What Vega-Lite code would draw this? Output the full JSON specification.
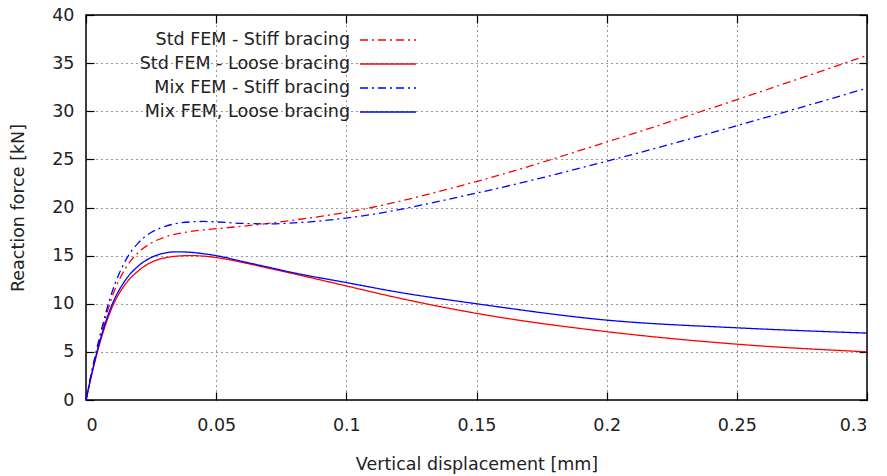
{
  "$schema": "https://vega.github.io/schema/vega-lite/v6.json",
  "width": 781,
  "height": 385,
  "autosize": {"type": "none"},
  "padding": {"left": 86, "top": 15, "right": 20, "bottom": 76},
  "background": "white",
  "config": {
    "font": "DejaVu Sans",
    "view": {"stroke": "black", "strokeWidth": 1.5},
    "axis": {"labelFont": "DejaVu Sans", "titleFont": "DejaVu Sans", "labelFontSize": 17.5, "titleFontSize": 17.5, "titleFontWeight": "normal", "labelColor": "#222", "titleColor": "#222", "domain": false, "gridColor": "#333", "gridDash": [1, 4], "gridWidth": 1, "gridOpacity": 1, "tickColor": "black", "tickWidth": 1.2}
  },
  "data": {"values": [
    {"s": "Std FEM - Stiff bracing", "x": 0, "y": 0},
    {"s": "Std FEM - Stiff bracing", "x": 0.002, "y": 2.6},
    {"s": "Std FEM - Stiff bracing", "x": 0.005, "y": 6.0},
    {"s": "Std FEM - Stiff bracing", "x": 0.01, "y": 10.7},
    {"s": "Std FEM - Stiff bracing", "x": 0.015, "y": 13.6},
    {"s": "Std FEM - Stiff bracing", "x": 0.02, "y": 15.3},
    {"s": "Std FEM - Stiff bracing", "x": 0.025, "y": 16.3},
    {"s": "Std FEM - Stiff bracing", "x": 0.03, "y": 16.9},
    {"s": "Std FEM - Stiff bracing", "x": 0.04, "y": 17.5},
    {"s": "Std FEM - Stiff bracing", "x": 0.05, "y": 17.8},
    {"s": "Std FEM - Stiff bracing", "x": 0.06, "y": 18.05},
    {"s": "Std FEM - Stiff bracing", "x": 0.07, "y": 18.35},
    {"s": "Std FEM - Stiff bracing", "x": 0.08, "y": 18.7},
    {"s": "Std FEM - Stiff bracing", "x": 0.1, "y": 19.5},
    {"s": "Std FEM - Stiff bracing", "x": 0.15, "y": 22.7},
    {"s": "Std FEM - Stiff bracing", "x": 0.2, "y": 26.8},
    {"s": "Std FEM - Stiff bracing", "x": 0.25, "y": 31.2},
    {"s": "Std FEM - Stiff bracing", "x": 0.3, "y": 35.8},
    {"s": "Std FEM - Loose bracing", "x": 0, "y": 0},
    {"s": "Std FEM - Loose bracing", "x": 0.002, "y": 2.4},
    {"s": "Std FEM - Loose bracing", "x": 0.005, "y": 5.6},
    {"s": "Std FEM - Loose bracing", "x": 0.01, "y": 9.6},
    {"s": "Std FEM - Loose bracing", "x": 0.015, "y": 12.0},
    {"s": "Std FEM - Loose bracing", "x": 0.02, "y": 13.4},
    {"s": "Std FEM - Loose bracing", "x": 0.025, "y": 14.3},
    {"s": "Std FEM - Loose bracing", "x": 0.03, "y": 14.75},
    {"s": "Std FEM - Loose bracing", "x": 0.035, "y": 14.95},
    {"s": "Std FEM - Loose bracing", "x": 0.04, "y": 15.0},
    {"s": "Std FEM - Loose bracing", "x": 0.045, "y": 14.95},
    {"s": "Std FEM - Loose bracing", "x": 0.05, "y": 14.8},
    {"s": "Std FEM - Loose bracing", "x": 0.06, "y": 14.3},
    {"s": "Std FEM - Loose bracing", "x": 0.07, "y": 13.7},
    {"s": "Std FEM - Loose bracing", "x": 0.08, "y": 13.1},
    {"s": "Std FEM - Loose bracing", "x": 0.1, "y": 11.85},
    {"s": "Std FEM - Loose bracing", "x": 0.12, "y": 10.6},
    {"s": "Std FEM - Loose bracing", "x": 0.15, "y": 9.0},
    {"s": "Std FEM - Loose bracing", "x": 0.2, "y": 7.1},
    {"s": "Std FEM - Loose bracing", "x": 0.25, "y": 5.8},
    {"s": "Std FEM - Loose bracing", "x": 0.3, "y": 5.0},
    {"s": "Mix FEM - Stiff bracing", "x": 0, "y": 0},
    {"s": "Mix FEM - Stiff bracing", "x": 0.002, "y": 2.7},
    {"s": "Mix FEM - Stiff bracing", "x": 0.005, "y": 6.3},
    {"s": "Mix FEM - Stiff bracing", "x": 0.01, "y": 11.2},
    {"s": "Mix FEM - Stiff bracing", "x": 0.015, "y": 14.4},
    {"s": "Mix FEM - Stiff bracing", "x": 0.02, "y": 16.3},
    {"s": "Mix FEM - Stiff bracing", "x": 0.025, "y": 17.4},
    {"s": "Mix FEM - Stiff bracing", "x": 0.03, "y": 18.0},
    {"s": "Mix FEM - Stiff bracing", "x": 0.035, "y": 18.35},
    {"s": "Mix FEM - Stiff bracing", "x": 0.04, "y": 18.5},
    {"s": "Mix FEM - Stiff bracing", "x": 0.045, "y": 18.55},
    {"s": "Mix FEM - Stiff bracing", "x": 0.05, "y": 18.5},
    {"s": "Mix FEM - Stiff bracing", "x": 0.06, "y": 18.35},
    {"s": "Mix FEM - Stiff bracing", "x": 0.07, "y": 18.3},
    {"s": "Mix FEM - Stiff bracing", "x": 0.08, "y": 18.4},
    {"s": "Mix FEM - Stiff bracing", "x": 0.1, "y": 18.9},
    {"s": "Mix FEM - Stiff bracing", "x": 0.15, "y": 21.5},
    {"s": "Mix FEM - Stiff bracing", "x": 0.2, "y": 24.8},
    {"s": "Mix FEM - Stiff bracing", "x": 0.25, "y": 28.5},
    {"s": "Mix FEM - Stiff bracing", "x": 0.3, "y": 32.4},
    {"s": "Mix FEM, Loose bracing", "x": 0, "y": 0},
    {"s": "Mix FEM, Loose bracing", "x": 0.002, "y": 2.5},
    {"s": "Mix FEM, Loose bracing", "x": 0.005, "y": 5.8},
    {"s": "Mix FEM, Loose bracing", "x": 0.01, "y": 9.9},
    {"s": "Mix FEM, Loose bracing", "x": 0.015, "y": 12.4},
    {"s": "Mix FEM, Loose bracing", "x": 0.02, "y": 13.9},
    {"s": "Mix FEM, Loose bracing", "x": 0.025, "y": 14.8},
    {"s": "Mix FEM, Loose bracing", "x": 0.03, "y": 15.25},
    {"s": "Mix FEM, Loose bracing", "x": 0.035, "y": 15.4},
    {"s": "Mix FEM, Loose bracing", "x": 0.04, "y": 15.35},
    {"s": "Mix FEM, Loose bracing", "x": 0.045, "y": 15.2},
    {"s": "Mix FEM, Loose bracing", "x": 0.05, "y": 15.0},
    {"s": "Mix FEM, Loose bracing", "x": 0.06, "y": 14.4},
    {"s": "Mix FEM, Loose bracing", "x": 0.07, "y": 13.8},
    {"s": "Mix FEM, Loose bracing", "x": 0.08, "y": 13.2},
    {"s": "Mix FEM, Loose bracing", "x": 0.1, "y": 12.2},
    {"s": "Mix FEM, Loose bracing", "x": 0.12, "y": 11.2},
    {"s": "Mix FEM, Loose bracing", "x": 0.15, "y": 10.0},
    {"s": "Mix FEM, Loose bracing", "x": 0.2, "y": 8.3},
    {"s": "Mix FEM, Loose bracing", "x": 0.25, "y": 7.5},
    {"s": "Mix FEM, Loose bracing", "x": 0.3, "y": 6.95}
  ]},
  "layer": [
    {
      "mark": {"type": "line", "interpolate": "monotone", "strokeWidth": 1.3},
      "encoding": {
        "x": {"field": "x", "type": "quantitative", "scale": {"domain": [0, 0.3], "nice": false},
              "axis": {"title": "Vertical displacement [mm]", "values": [0, 0.05, 0.1, 0.15, 0.2, 0.25, 0.3], "format": "~g", "tickSize": -8, "labelPadding": 24, "titlePadding": 22, "grid": true}},
        "y": {"field": "y", "type": "quantitative", "scale": {"domain": [0, 40], "nice": false},
              "axis": {"title": "Reaction force [kN]", "values": [0, 5, 10, 15, 20, 25, 30, 35, 40], "tickSize": -8, "labelPadding": 20, "titlePadding": 24, "grid": true}},
        "color": {"field": "s", "type": "nominal",
          "scale": {"domain": ["Std FEM - Stiff bracing", "Std FEM - Loose bracing", "Mix FEM - Stiff bracing", "Mix FEM, Loose bracing"], "range": ["#ff0000", "#ff0000", "#0000ff", "#0000ff"]},
          "legend": {"title": null, "orient": "none", "legendX": 40, "legendY": 10, "padding": 0, "labelFontSize": 17.5, "labelFont": "DejaVu Sans", "labelColor": "#222", "labelLimit": 500, "labelAlign": "right", "labelOffset": -53, "symbolOffset": 247, "symbolType": "M-2,0H2", "symbolSize": 784, "symbolStrokeWidth": 1.5, "rowPadding": -0.3}},
        "strokeDash": {"field": "s", "type": "nominal",
          "scale": {"domain": ["Std FEM - Stiff bracing", "Std FEM - Loose bracing", "Mix FEM - Stiff bracing", "Mix FEM, Loose bracing"], "range": [[8, 4, 2, 4], [1, 0], [8, 4, 2, 4], [1, 0]]},
          "legend": null}
      }
    },
    {
      "mark": {"type": "point", "opacity": 0},
      "encoding": {
        "x": {"field": "x", "type": "quantitative", "scale": {"domain": [0, 0.3], "nice": false},
              "axis": {"orient": "top", "title": null, "labels": false, "grid": false, "values": [0, 0.05, 0.1, 0.15, 0.2, 0.25, 0.3], "tickSize": -8}},
        "y": {"field": "y", "type": "quantitative", "scale": {"domain": [0, 40], "nice": false},
              "axis": {"orient": "right", "title": null, "labels": false, "grid": false, "values": [0, 5, 10, 15, 20, 25, 30, 35, 40], "tickSize": -8}}
      }
    }
  ],
  "resolve": {"axis": {"x": "independent", "y": "independent"}}
}
